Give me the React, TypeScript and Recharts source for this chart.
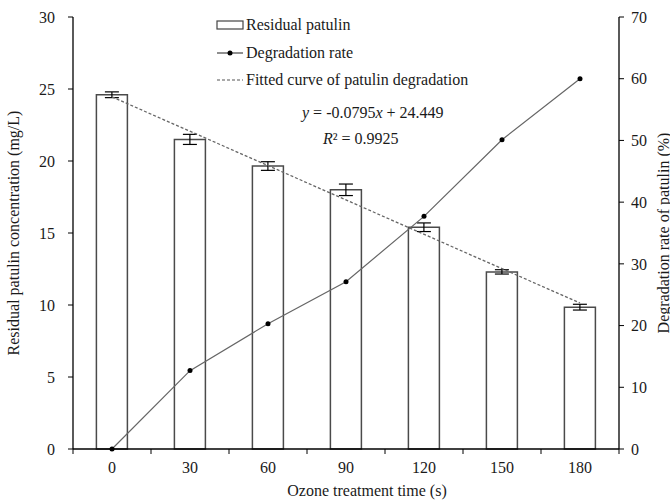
import React from "react";
import { ComposedChart, Bar, Line, XAxis, YAxis, ErrorBar } from "recharts";

const times = ["0", "30", "60", "90", "120", "150", "180"];
const residual = [24.6, 21.5, 19.65, 18.0, 15.4, 12.3, 9.85];
const residualErr = [0.2, 0.35, 0.3, 0.4, 0.3, 0.15, 0.2];
const degradation = [0, 12.7, 20.3, 27.1, 37.7, 50.1, 60.0];
// fitted line only has its two end points, connected through the gaps
const fitted = [24.45, null, null, null, null, null, 10.14];
const leftTicks = [0, 5, 10, 15, 20, 25, 30];
const rightTicks = [0, 10, 20, 30, 40, 50, 60, 70];

const data = times.map((t, i) => ({
  time: t,
  residual: residual[i],
  err: residualErr[i],
  rate: degradation[i],
  fit: fitted[i],
}));

const FONT = "'Liberation Serif', 'Times New Roman', serif";
const INK = "#1a1a1a";
const textStyle = { fontFamily: FONT, fontSize: 16 };

// category tick: label at band centre, tick mark at band boundaries
const TimeTick = (props: any) => {
  const { x, y, payload, index } = props;
  const half = payload?.offset ?? 39;
  return (
    <g>
      <line x1={x - half} x2={x - half} y1={y - 5} y2={y} stroke="#000" />
      {index === times.length - 1 && (
        <line x1={x + half} x2={x + half} y1={y - 5} y2={y} stroke="#000" />
      )}
      <text x={x} y={y} dy={19} textAnchor="middle" style={textStyle} fill={INK}>
        {payload.value}
      </text>
    </g>
  );
};

const XTitle = ({ viewBox }: any) => (
  <text
    x={viewBox.x + viewBox.width / 2 + 21}
    y={viewBox.y + 47}
    textAnchor="middle"
    style={textStyle}
    fill={INK}
  >
    Ozone treatment time (s)
  </text>
);

const YTitle = ({ viewBox, text, dx }: any) => {
  const cx = viewBox.x + dx;
  const cy = viewBox.y + viewBox.height / 2;
  return (
    <text
      x={cx}
      y={cy}
      transform={`rotate(-90, ${cx}, ${cy})`}
      textAnchor="middle"
      dominantBaseline="central"
      style={textStyle}
      fill={INK}
    >
      {text}
    </text>
  );
};

const tickStyle = { fill: INK, style: textStyle };

const Overlay = () => {
  const row = (top: number): React.CSSProperties => ({
    position: "absolute",
    left: 246,
    top: top - 9,
    lineHeight: "18px",
    fontSize: 16,
    fontFamily: FONT,
    color: INK,
    whiteSpace: "nowrap",
  });
  return (
    <div style={{ position: "absolute", left: 0, top: 0, width: 670, height: 500, pointerEvents: "none" }}>
      <svg width={670} height={100} style={{ position: "absolute", left: 0, top: 0 }}>
        <rect x={217} y={21} width={26} height={8} fill="#fff" stroke="#444" strokeWidth={1.2} />
        <line x1={217} x2={243} y1={53} y2={53} stroke="#444" strokeWidth={1.2} />
        <circle cx={230} cy={53} r={2.5} fill="#000" />
        <line x1={217} x2={243} y1={80} y2={80} stroke="#555" strokeWidth={1.2} strokeDasharray="3 2" />
      </svg>
      <div style={row(25)}>Residual patulin</div>
      <div style={row(53)}>Degradation rate</div>
      <div style={row(80)}>Fitted curve of patulin degradation</div>
      <div style={{ ...row(113), left: 302 }}>
        <i>y</i> = -0.0795<i>x</i> + 24.449
      </div>
      <div style={{ ...row(139), left: 323 }}>
        <i>R</i>² = 0.9925
      </div>
    </div>
  );
};

export default function App() {
  return (
    <div style={{ position: "absolute", left: 0, top: 0, width: 670, height: 500, background: "#fff" }}>
      <ComposedChart
        width={670}
        height={500}
        data={data}
        margin={{ top: 17, right: 0, bottom: 0, left: 0 }}
        barCategoryGap="30%"
      >
        <XAxis
          dataKey="time"
          height={51}
          interval={0}
          tickLine={false}
          tickSize={5}
          tickMargin={0}
          axisLine={{ stroke: "#000", strokeWidth: 1.3 }}
          tick={<TimeTick />}
          label={<XTitle />}
        />
        <YAxis
          yAxisId="left"
          width={73}
          domain={[0, 30]}
          ticks={leftTicks}
          tickSize={5}
          tickMargin={13}
          tick={tickStyle}
          tickLine={{ stroke: "#000" }}
          axisLine={{ stroke: "#000", strokeWidth: 1.3 }}
          label={<YTitle text="Residual patulin concentration (mg/L)" dx={13} />}
        />
        <YAxis
          yAxisId="right"
          orientation="right"
          width={51}
          domain={[0, 70]}
          ticks={rightTicks}
          tickSize={5}
          tickMargin={7}
          tick={tickStyle}
          tickLine={{ stroke: "#000" }}
          axisLine={{ stroke: "#000", strokeWidth: 1.3 }}
          label={<YTitle text="Degradation rate of patulin (%)" dx={44} />}
        />
        <Bar
          yAxisId="left"
          dataKey="residual"
          fill="#fff"
          stroke="#4a4a4a"
          strokeWidth={1.5}
          isAnimationActive={false}
        >
          <ErrorBar dataKey="err" width={7} stroke="#000" strokeWidth={1.2} isAnimationActive={false} />
        </Bar>
        <Line
          yAxisId="left"
          dataKey="fit"
          type="linear"
          stroke="#666"
          strokeWidth={1.3}
          strokeDasharray="3 2"
          dot={false}
          connectNulls
          isAnimationActive={false}
        />
        <Line
          yAxisId="right"
          dataKey="rate"
          type="linear"
          stroke="#666"
          strokeWidth={1.2}
          dot={{ r: 2.5, fill: "#000", stroke: "#000", strokeWidth: 0 }}
          activeDot={false}
          isAnimationActive={false}
        />
      </ComposedChart>
      <Overlay />
    </div>
  );
}
